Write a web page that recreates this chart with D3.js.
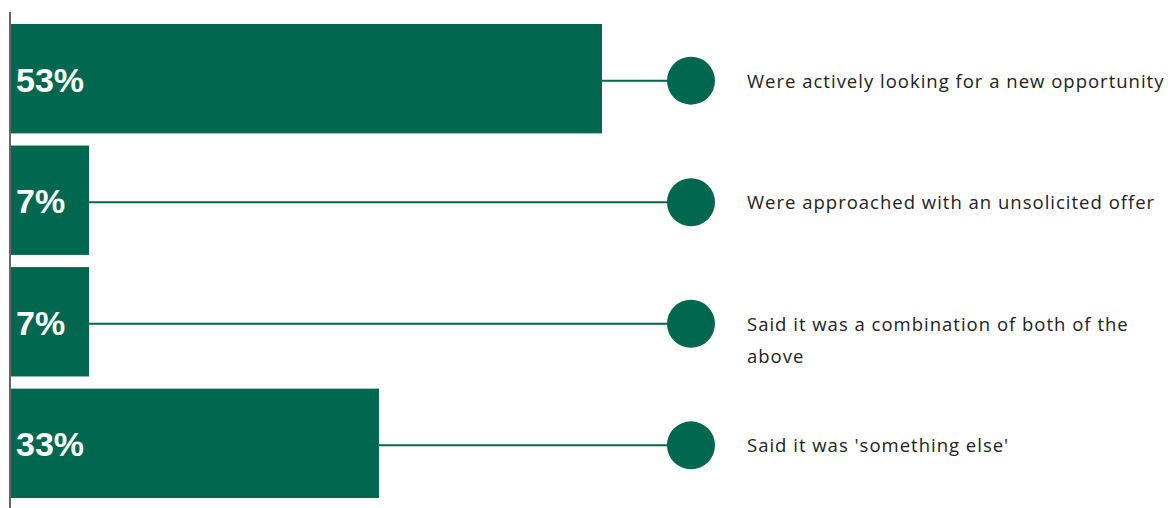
<!DOCTYPE html>
<html>
<head>
<meta charset="utf-8">
<script src="https://cdn.jsdelivr.net/npm/d3@7"></script>
<style>
  html, body { margin: 0; padding: 0; background: #fff; }
  svg { display: block; }
</style>
</head>
<body>
<svg id="chart"></svg>
<script>
const categories = ["looking", "approached", "combination", "else"];
const values = [53, 7, 7, 33];
const labels = [
  ["Were actively looking for a new opportunity"],
  ["Were approached with an unsolicited offer"],
  ["Said it was a combination of both of the", "above"],
  ["Said it was 'something else'"]
];

const green = "#00684f";
const W = 1170, H = 508;

const svg = d3.select("#chart").attr("width", W).attr("height", H);

const x = d3.scaleLinear()
  .domain([0, 53])
  .range([11, 602]);

const y = d3.scaleBand()
  .domain(categories)
  .range([24, 498])
  .paddingInner(0.1)
  .paddingOuter(0);

const circleX = 691;
const labelX = 747;

// axis line on the left
svg.append("line")
  .attr("x1", 10).attr("x2", 10)
  .attr("y1", 12).attr("y2", H)
  .attr("stroke", "#666")
  .attr("stroke-width", 2);

const rows = svg.selectAll("g.row")
  .data(categories.map((c, i) => ({ c, v: values[i], lines: labels[i] })))
  .join("g")
  .attr("class", "row");

rows.append("rect")
  .attr("x", x(0))
  .attr("y", d => y(d.c))
  .attr("width", d => x(d.v) - x(0))
  .attr("height", y.bandwidth())
  .attr("fill", green);

rows.append("line")
  .attr("x1", d => x(d.v))
  .attr("x2", circleX)
  .attr("y1", d => y(d.c) + y.bandwidth() / 2 + 2)
  .attr("y2", d => y(d.c) + y.bandwidth() / 2 + 2)
  .attr("stroke", green)
  .attr("stroke-width", 2);

rows.append("circle")
  .attr("cx", circleX)
  .attr("cy", d => y(d.c) + y.bandwidth() / 2 + 2)
  .attr("r", 24)
  .attr("fill", green);

rows.append("text")
  .attr("x", 16)
  .attr("y", d => y(d.c) + y.bandwidth() / 2 + 13)
  .attr("fill", "#fff")
  .style("font-family", "'Liberation Sans', Arial, sans-serif")
  .style("font-weight", "bold")
  .style("font-size", "34px")
  .text(d => d.v + "%");

rows.append("text")
  .attr("x", labelX)
  .attr("y", d => y(d.c) + y.bandwidth() / 2 + 9)
  .attr("fill", "#222")
  .style("font-family", "'Open Sans', sans-serif")
  .style("font-size", "18.5px")
  .style("letter-spacing", "1px")
  .selectAll("tspan")
  .data(d => d.lines)
  .join("tspan")
  .attr("x", labelX)
  .attr("dy", (d, i) => i === 0 ? 0 : 32)
  .text(d => d);
</script>
</body>
</html>
